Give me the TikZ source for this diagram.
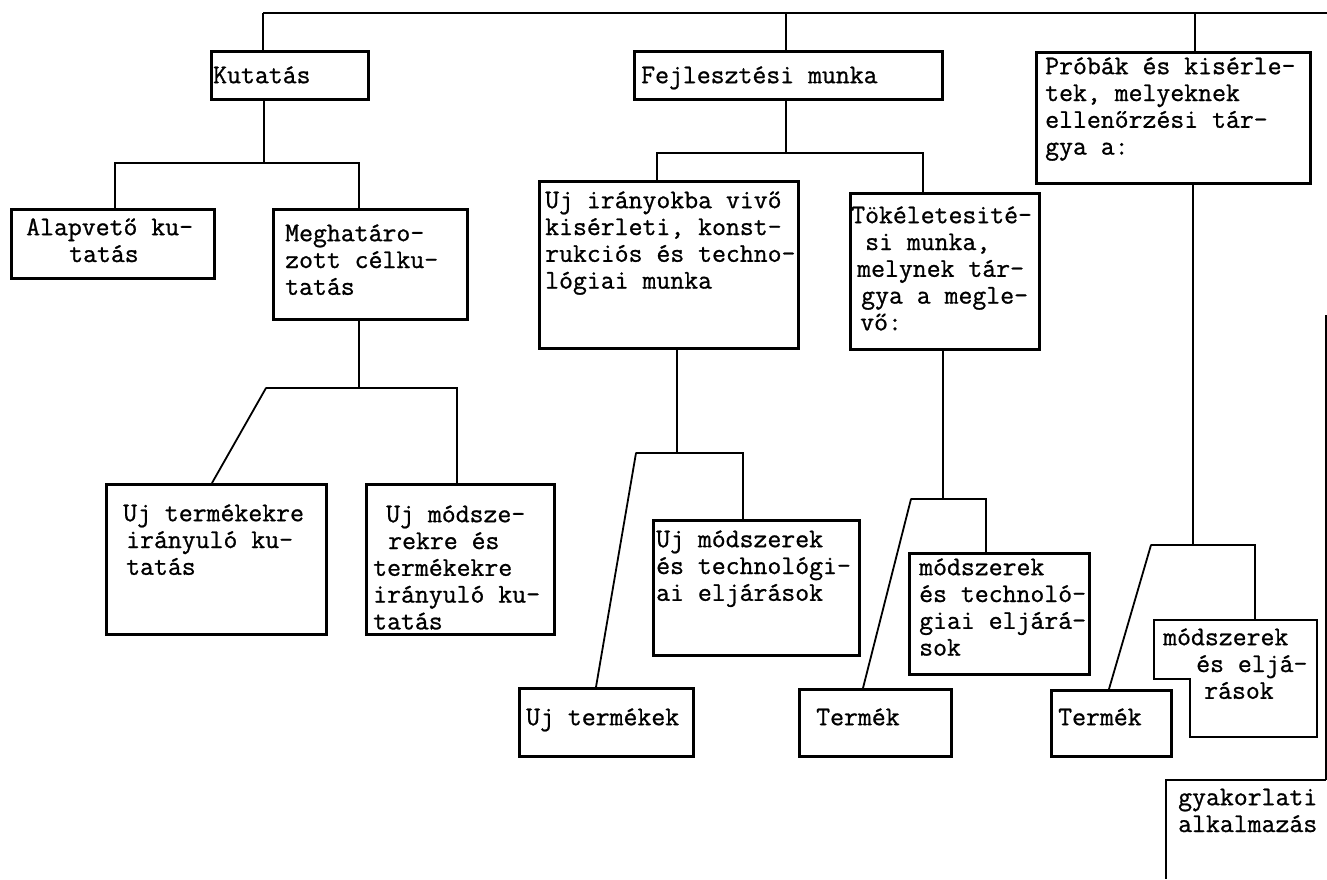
\documentclass[tikz,border=0pt]{standalone}
\usepackage{fontspec}
\newfontfamily\twfont{Latin Modern Mono}[FakeBold=0.9]
\usetikzlibrary{calc}
\newcommand{\fs}{\rule{0pt}{20pt}}
\lineskiplimit=-100pt
\lineskip=0pt
\tikzset{
  box/.style={draw=black, line width=2.6pt, rectangle, inner sep=0pt, anchor=north west},
  txt/.style={inner sep=0pt, anchor=north west, align=left,
    font=\twfont\fontsize{27}{26.8}\selectfont},
  conn/.style={draw=black, line width=2.4pt, line join=miter},
  diag/.style={draw=black, line width=1.8pt, line cap=round},
  boxline/.style={draw=black, line width=2.6pt},
  thinline/.style={draw=black, line width=1.9pt}
}
\begin{document}
\begin{tikzpicture}[x=1pt, y=-1pt]
\useasboundingbox (0,0) rectangle (1327,879);
% boxes
\node[box, minimum width=157pt, minimum height=48pt] (kut) at (210,50) {};
\node[box, minimum width=308pt, minimum height=48pt] (fej) at (633,50) {};
\node[box, minimum width=274pt, minimum height=131pt] (pro) at (1035,51) {};
\node[box, minimum width=203pt, minimum height=69pt] (alap) at (10,208) {};
\node[box, minimum width=194pt, minimum height=110pt] (megh) at (272,208) {};
\node[box, minimum width=259pt, minimum height=167pt] (ujir) at (538,180) {};
\node[box, minimum width=189pt, minimum height=156pt] (tok) at (849,192) {};
\node[box, minimum width=220pt, minimum height=150pt] (ujtk) at (105,483) {};
\node[box, minimum width=188pt, minimum height=150pt] (ujmk) at (365,483) {};
\node[box, minimum width=206pt, minimum height=135pt] (ujmt) at (652,519) {};
\node[box, minimum width=174pt, minimum height=68pt] (ujt) at (518,687) {};
\node[box, minimum width=152pt, minimum height=67pt] (term1) at (798,688) {};
\node[box, minimum width=180pt, minimum height=121pt] (mte) at (908,552) {};
\node[box, minimum width=120pt, minimum height=66pt] (term2) at (1050,689) {};
% notched box
\coordinate (melNW) at (1154,620);
\coordinate (melNE) at (1317,620);
\coordinate (melSE) at (1317,737);
\coordinate (melSB) at (1190,737);
\coordinate (melNotch) at (1190,679);
\coordinate (melSW) at (1154,679);
\draw[boxline] (melNW) -- (melNE) -- (melSE) -- (melSB) -- (melNotch) -- (melSW) -- cycle;
% open box gyakorlati alkalmazas
\coordinate (gyTop) at (1326,315);
\coordinate (gyCorner) at (1326,780);
\coordinate (gyTL) at (1166,780);
\coordinate (gyBot) at (1166,879);
\draw[thinline] (gyTop) -- (gyCorner);
\draw[boxline] (gyCorner) -- (gyTL) -- (gyBot);
% texts
\node[txt] (kutT) at (213,63) {\fs Kutatás};
\node[txt] (fejT) at (641,63) {\fs Fejlesztési munka};
\node[txt] (proT) at (1045,54) {\fs Próbák és kisérle-\\tek, melyeknek\\ellenőrzési tár-\\gya a:};
\node[txt] (alapT) at (26,215) {\fs Alapvető ku-\\\hspace*{43pt}tatás};
\node[txt] (meghT) at (285,221) {\fs Meghatáro-\\zott célku-\\tatás};
\node[txt] (ujirT) at (545,188) {\fs Uj irányokba vivő\\kisérleti, konst-\\rukciós és techno-\\lógiai munka};
\node[txt] (tokT) at (851,203) {\fs Tökéletesité-\\\hspace*{14pt}si munka,\\\hspace*{6pt}melynek tár-\\\hspace*{10pt}gya a megle-\\\hspace*{9pt}vő:};
\node[txt] (ujtkT) at (123,501) {\fs Uj termékekre\\\hspace*{3pt}irányuló ku-\\\hspace*{3pt}tatás};
\node[txt] (ujmkT) at (373,502) {\fs\hspace*{13pt}Uj módsze-\\\hspace*{15pt}rekre és\\termékekre\\irányuló ku-\\tatás};
\node[txt] (ujmtT) at (656,527) {\fs Uj módszerek\\és technológi-\\ai eljárások};
\node[txt] (ujtT) at (526,705) {\fs Uj termékek};
\node[txt] (term1T) at (816,705) {\fs Termék};
\node[txt] (mteT) at (919,555) {\fs módszerek\\és technoló-\\giai eljárá-\\sok};
\node[txt] (term2T) at (1058,705) {\fs Termék};
\node[txt] (melT) at (1163,625) {\fs módszerek\\\hspace*{33pt}és eljá-\\\hspace*{41pt}rások};
\node[txt] (gyakT) at (1178,785) {\fs gyakorlati\\alkalmazás};
% top bar
\coordinate (tl) at (263,13);
\coordinate (tr) at (1327,13);
\coordinate (fs) at (786,13);
\coordinate (ps) at (1195,13);
\draw[conn] (tl) -- (tr);
\draw[conn] (tl) -- (kut.north -| tl);
\draw[conn] (fs) -- (fej.north -| fs);
\draw[thinline] (ps) -- (pro.north -| ps);
% Kutatas subtree
\coordinate (kj) at (264,163);
\coordinate (kjL) at (115,163);
\coordinate (kjR) at (359,163);
\draw[conn] (kut.south -| kj) -- (kj);
\draw[conn] (alap.north -| kjL) -- (kjL) -- (kjR) -- (megh.north -| kjR);
% Meghatarozott subtree
\coordinate (mj) at (359,388);
\coordinate (mjL) at (266,388);
\coordinate (mjR) at (457,388);
\draw[conn] (megh.south -| mj) -- (mj);
\draw[diag] (ujtk.north west) ++(107,0) -- (mjL);
\draw[conn] (mjL) -- (mjR) -- (ujmk.north -| mjR);
% Fejlesztesi subtree
\coordinate (fj) at (786,153);
\coordinate (fjL) at (657,153);
\coordinate (fjR) at (923,153);
\draw[conn] (fej.south -| fj) -- (fj);
\draw[conn] (ujir.north -| fjL) -- (fjL) -- (fjR) -- (tok.north -| fjR);
% Uj iranyokba subtree
\coordinate (ij) at (677,453);
\coordinate (ijL) at (636,453);
\coordinate (ijR) at (743,453);
\draw[conn] (ujir.south -| ij) -- (ij);
\draw[diag] (ujt.north west) ++(78,0) -- (ijL);
\draw[conn] (ijL) -- (ijR) -- (ujmt.north -| ijR);
% Tokeletesites subtree
\coordinate (tj) at (943,499);
\coordinate (tjL) at (911,499);
\coordinate (tjR) at (986,499);
\draw[conn] (tok.south -| tj) -- (tj);
\draw[diag] (term1.north west) ++(65,0) -- (tjL);
\draw[conn] (tjL) -- (tjR) -- (mte.north -| tjR);
% Probak subtree
\coordinate (pj) at (1193,545);
\coordinate (pjL) at (1151,545);
\coordinate (pjR) at (1255,545);
\draw[thinline] (pro.south -| pj) -- (pj);
\draw[diag] (term2.north west) ++(59,0) -- (pjL);
\draw[conn] (pjL) -- (pjR) -- (melNW -| pjR);
\end{tikzpicture}
\end{document}
